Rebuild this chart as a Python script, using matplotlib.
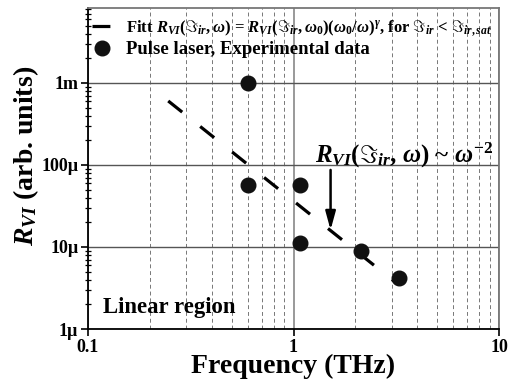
import matplotlib
matplotlib.use("Agg")
import matplotlib.pyplot as plt
from matplotlib.ticker import NullFormatter, LogLocator
import numpy as np

plt.rcParams['font.family'] = ['Liberation Serif', 'DejaVu Serif']
plt.rcParams['font.weight'] = 'bold'
plt.rcParams['mathtext.fontset'] = 'custom'
plt.rcParams['mathtext.rm'] = 'Liberation Serif:bold'
plt.rcParams['mathtext.it'] = 'Liberation Serif:italic:bold'
plt.rcParams['mathtext.bf'] = 'Liberation Serif:bold'
plt.rcParams['mathtext.fallback'] = 'cm'

# Experimental data (pulse laser)
exp_freq = [0.60, 0.60, 1.07, 1.07, 2.12, 3.25]
exp_resp = [1.0e-3, 5.7e-5, 5.7e-5, 1.12e-5, 9.0e-6, 4.2e-6]

# Fit line (omega^-2) endpoints
fit_freq = [0.2457, 3.21]
fit_resp = [6.03e-4, 3.53e-6]

ytick_vals = [1e-6, 1e-5, 1e-4, 1e-3]
ytick_labels = ['1µ', '10µ', '100µ', '1m']
xtick_vals = [0.1, 1, 10]
xtick_labels = ['0.1', '1', '10']

fig = plt.figure(figsize=(5.11, 3.81), dpi=100)
ax = fig.add_axes([88/511, 1-329/381, (499-88)/511, (329-8)/381])
ax.set_xscale('log')
ax.set_yscale('log')
ax.set_xlim(0.1, 10)
ax.set_ylim(1e-6, 8.2e-3)

# grid
ax.xaxis.set_minor_locator(LogLocator(base=10, subs=np.arange(2, 10)))
ax.yaxis.set_minor_locator(LogLocator(base=10, subs=np.arange(2, 10)))
ax.xaxis.set_minor_formatter(NullFormatter())
ax.yaxis.set_minor_formatter(NullFormatter())
ax.grid(True, which='minor', axis='x', color='#777777', lw=0.7, ls=(0, (4, 3)))
ax.grid(True, which='major', axis='x', color='#999999', lw=1.4, ls='-')
ax.grid(True, which='major', axis='y', color='#555555', lw=1.0, ls='-')
ax.set_axisbelow(True)

fit_line, = ax.plot(fit_freq, fit_resp, color='black', lw=2.3, dashes=(5.6, 7.2),
                    solid_capstyle='butt', dash_capstyle='butt', zorder=3,
                    label=r'Fitt $R_{VI}(\Im_{ir},\omega)$ = $R_{VI}(\Im_{ir},\omega_0)(\omega_0/\omega)^{\gamma}$, for $\Im_{ir}$ < $\Im_{ir,sat}$')
pts, = ax.plot(exp_freq, exp_resp, 'o', color='#111111', ms=10.5, zorder=4,
               label='Pulse laser, Experimental data')

ax.set_xticks(xtick_vals)
ax.set_xticklabels(xtick_labels)
ax.set_yticks(ytick_vals)
ax.set_yticklabels(ytick_labels)
ax.tick_params(axis='both', which='major', labelsize=13, direction='out', length=5, width=1.2, pad=2)
ax.tick_params(axis='y', which='minor', direction='inout', length=5, width=0.9)
ax.tick_params(axis='x', which='minor', length=0)
for lab in ax.get_xticklabels() + ax.get_yticklabels():
    lab.set_fontweight('bold')

for s in ['left', 'bottom']:
    ax.spines[s].set_color('black')
    ax.spines[s].set_linewidth(1.3)
for s in ['top', 'right']:
    ax.spines[s].set_color('#777777')
    ax.spines[s].set_linewidth(1.3)

ax.set_xlabel('Frequency (THz)', fontsize=20, fontweight='bold', labelpad=-1)
ax.set_ylabel(r'$R_{VI}$ (arb. units)', fontsize=20, fontweight='bold')
ax.yaxis.set_label_coords(-0.115, 0.539)

leg = ax.legend(handles=[fit_line, pts], loc='upper left', bbox_to_anchor=(-0.01, 0.995),
                frameon=False, fontsize=12, handlelength=1.2, handletextpad=0.8,
                borderaxespad=0.2, labelspacing=0.2, borderpad=0.3)
leg.get_texts()[0].set_fontsize(12)
leg.get_texts()[1].set_fontsize(13.5)

ax.text(0.552, 0.520, r'$R_{VI}$($\Im_{ir}$, $\omega$) ~ $\omega^{-2}$', transform=ax.transAxes,
        fontsize=18, fontweight='bold', ha='left', va='baseline', zorder=5)
ax.annotate('', xy=(1.515, 1.61e-5), xytext=(1.515, 8.7e-5),
            arrowprops=dict(arrowstyle='-|>,head_length=1.1,head_width=0.3', color='black', lw=1.8,
                            shrinkA=0, shrinkB=0), zorder=5)

ax.text(0.0365, 0.05, 'Linear region', transform=ax.transAxes, fontsize=16.4, fontweight='bold',
        ha='left', va='baseline')

fig.savefig('out.png', dpi=100)
